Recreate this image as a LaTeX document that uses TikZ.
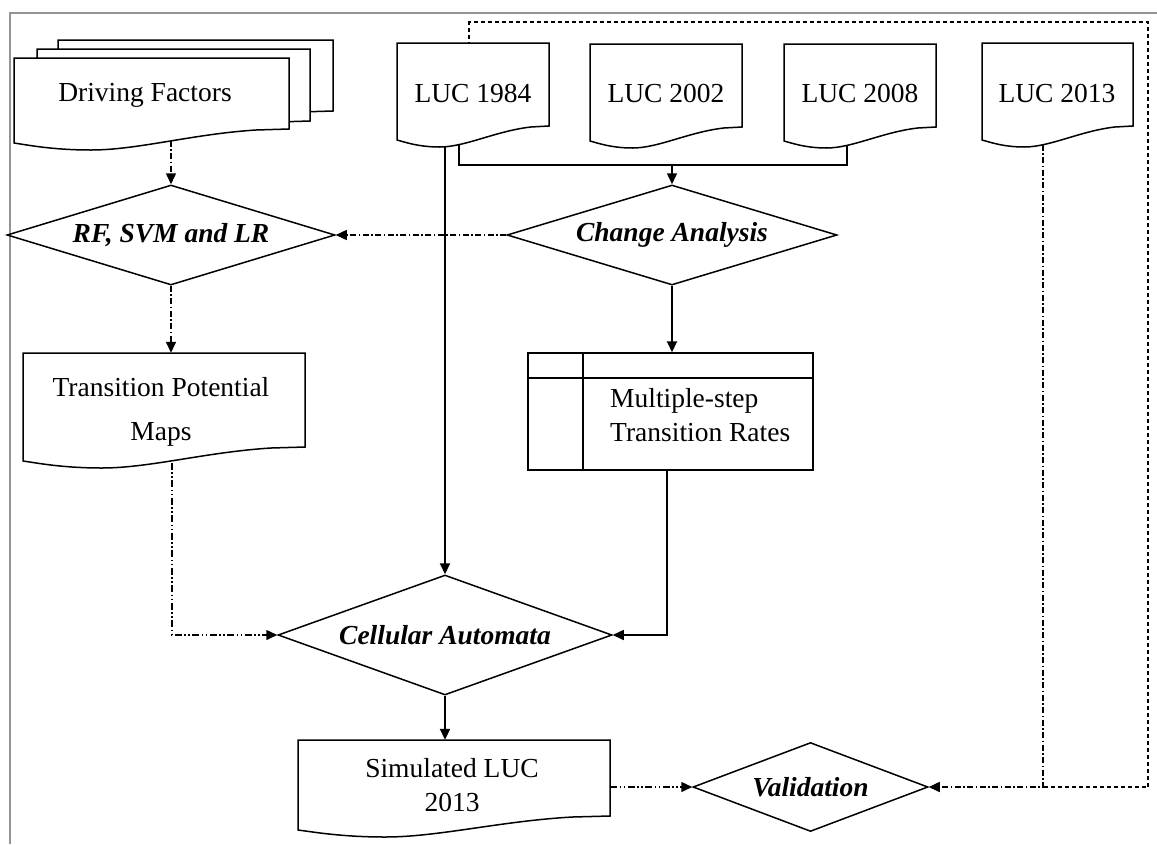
\documentclass[tikz,border=0pt]{standalone}
\usepackage{fontspec}
\setmainfont{Liberation Serif}
\usetikzlibrary{shapes.geometric,arrows.meta,calc}
\pgfdeclarelayer{bg}
\pgfdeclarelayer{paper}
\pgfsetlayers{paper,bg,main}
% document shape: x1, top, x2, yR (right bottom corner)
\newcommand{\docwave}[4]{%
  \draw[docline] (#1,#2) -- (#3,#2) -- (#3,#4)
    -- ({#3-0.12*(#3-#1)},{#4+1})
    .. controls ({#3-0.35*(#3-#1)},{#4+5}) and ({#1+0.45*(#3-#1)},{#4+21}) .. ({#1+0.28*(#3-#1)},{#4+21})
    .. controls ({#1+0.14*(#3-#1)},{#4+21}) and ({#1+0.05*(#3-#1)},{#4+16}) .. (#1,{#4+14}) -- cycle;}
\begin{document}
\begin{tikzpicture}[x=1pt,y=-1pt,
  docline/.style={draw=black,line width=1.5pt,fill=white,line join=miter},
  ghost/.style={draw=none,rectangle,inner sep=0pt},
  lbl/.style={font=\fontsize{27.5}{34}\selectfont,inner sep=0pt},
  dia/.style={draw,line width=1.5pt,fill=white,shape=diamond,inner sep=0pt,
    font=\fontsize{27.5}{34}\selectfont\bfseries\itshape},
  tip/.style={-{Triangle[length=11pt,width=10pt]}},
  solidarrow/.style={line width=2pt,tip},
  solidline/.style={line width=1.5pt},
  dashdot/.style={line width=1.5pt,dash pattern=on 6pt off 2.5pt on 1.5pt off 2.5pt},
  dashdotdot/.style={line width=1.5pt,dash pattern=on 7pt off 2.5pt on 1.5pt off 2.5pt on 1.5pt off 2.5pt},
  shortdash/.style={line width=1.5pt,dash pattern=on 4pt off 3pt}]
\useasboundingbox (0,0) rectangle (1157,844);
\begin{pgfonlayer}{paper}
\fill[white] (0,0) rectangle (1157,844);
\end{pgfonlayer}
% frame
\draw[color=black!42,line width=2pt] (10,844) -- (10,13) -- (1157,13);

% documents
\docwave{58}{40}{333}{111}
\docwave{37}{49}{310}{121}
\docwave{14}{58}{289}{129}
\node[ghost,minimum width=275pt,minimum height=90pt] (df) at (151.5,103) {};
\node[lbl] (dft) at (145,95) {Driving Factors};

\docwave{397}{43}{549}{126}
\node[ghost,minimum width=152pt,minimum height=103pt] (luc84) at (473,94.5) {};
\node[lbl] (luc84t) at (473,93) {LUC 1984};
\docwave{590}{44}{742}{127}
\node[ghost,minimum width=152pt,minimum height=103pt] (luc02) at (666,95.5) {};
\node[lbl] (luc02t) at (666,93) {LUC 2002};
\docwave{784}{44}{936}{127}
\node[ghost,minimum width=152pt,minimum height=103pt] (luc08) at (860,95.5) {};
\node[lbl] (luc08t) at (860,93) {LUC 2008};
\docwave{982}{43}{1133}{126}
\node[ghost,minimum width=151pt,minimum height=103pt] (luc13) at (1057.5,94.5) {};
\node[lbl] (luc13t) at (1057,93) {LUC 2013};

\docwave{23}{353}{305}{447}
\node[ghost,minimum width=282pt,minimum height=114pt] (tpm) at (164,410) {};
\node[lbl,align=center,font=\fontsize{27.5}{44}\selectfont] (tpmt) at (161,412) {Transition Potential\\Maps};

\docwave{298}{740}{610}{816}
\node[ghost,minimum width=312pt,minimum height=96pt] (sim) at (454,788) {};
\node[lbl,align=center,font=\fontsize{27.5}{34}\selectfont] (simt) at (452,785) {Simulated LUC\\2013};

% diamonds
\node[dia,shape aspect=3.28,minimum width=328pt,minimum height=100pt] (rf) at (171,235) {RF, SVM and LR};
\node[dia,shape aspect=3.3,minimum width=330pt,minimum height=100pt] (chg) at (672,235) {Change Analysis};
\node[dia,shape aspect=2.78,minimum width=334pt,minimum height=120pt] (ca) at (445,635) {Cellular Automata};
\node[dia,shape aspect=2.64,minimum width=235pt,minimum height=89pt] (val) at (810.5,787) {Validation};

% table
\node[draw,line width=1.5pt,fill=white,minimum width=285pt,minimum height=117pt,inner sep=0pt] (mst) at (670.5,411.5) {};
\draw[line width=1.5pt] (mst.north west |- 0,378) -- (mst.north east |- 0,378);
\draw[line width=1.5pt] (583,0 |- mst.north) -- (583,0 |- mst.south);
\node[lbl,align=left,anchor=west] (mstt) at (610,415) {Multiple-step\\Transition Rates};

% connectors
\begin{pgfonlayer}{bg}
\draw[dashdot,tip] (df.center -| rf.north) -- (rf.north);
\draw[dashdot,tip] (rf.south) -- (rf.south |- tpm.north);
\draw[dashdot,tip] (chg.west) -- (rf.east);
\draw[solidarrow] (ca.north |- luc84.center) -- (ca.north);
\coordinate (brk) at (chg.north |- 0,165);
\draw[solidline] ($(luc84.center)+(-14,0)$) |- (brk) -| ($(luc08.center)+(-13,0)$);
\draw[solidline,tip] (brk) -- (chg.north);
\draw[solidarrow] (chg.south) -- (chg.south |- mst.north);
\draw[solidline,tip] (mst.south -| 667,0) |- (ca.east);
\draw[dashdotdot,tip] (tpm.center -| 172,0) |- (ca.west);
\draw[solidarrow] (ca.south) -- (ca.south |- sim.north);
\draw[dashdotdot,tip] (sim.east |- val.west) -- (val.west);
\coordinate (junc) at (1043,0 |- val.east);
\draw[dashdot,tip] (luc13.center -| junc) -- (junc) -- (val.east);
\coordinate (loop) at (1148,22);
\draw[shortdash] ($(luc84.center)+(-4,0)$) |- (loop) |- (junc);
\end{pgfonlayer}
\end{tikzpicture}
\end{document}
